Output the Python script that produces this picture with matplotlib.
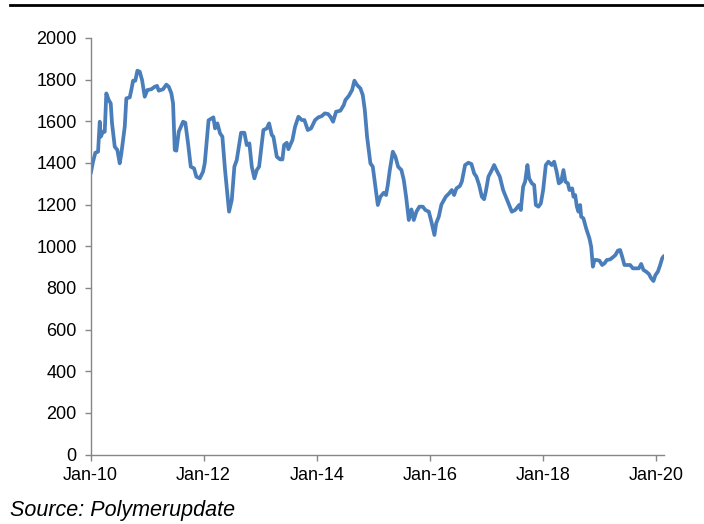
import matplotlib
matplotlib.use("Agg")
import matplotlib.pyplot as plt
from matplotlib.lines import Line2D
import pandas as pd
import numpy as np

plt.rcParams['font.family'] = ['Liberation Sans', 'DejaVu Sans']

# Time in years elapsed since Jan 2010, and price values
years_since_2010 = [
    0.004, 0.044, 0.085, 0.133, 0.163, 0.180, 0.221, 0.251, 0.279, 0.322,
    0.357, 0.380, 0.428, 0.474, 0.516, 0.545, 0.605, 0.633, 0.693, 0.721,
    0.752, 0.792, 0.828, 0.870, 0.911, 0.958, 1.004, 1.075, 1.135, 1.176,
    1.206, 1.282, 1.340, 1.383, 1.429, 1.459, 1.489, 1.517, 1.560, 1.636,
    1.676, 1.724, 1.772, 1.830, 1.871, 1.931, 1.989, 2.020, 2.087, 2.172,
    2.202, 2.243, 2.290, 2.331, 2.378, 2.449, 2.497, 2.543, 2.585, 2.661,
    2.720, 2.762, 2.808, 2.851, 2.897, 2.939, 2.980, 3.056, 3.116, 3.157,
    3.204, 3.233, 3.293, 3.351, 3.392, 3.422, 3.469, 3.498, 3.569, 3.616,
    3.675, 3.735, 3.781, 3.841, 3.899, 3.970, 4.028, 4.088, 4.141, 4.200,
    4.240, 4.288, 4.341, 4.417, 4.477, 4.506, 4.566, 4.624, 4.665, 4.713,
    4.771, 4.813, 4.849, 4.889, 4.948, 4.990, 5.036, 5.079, 5.125, 5.185,
    5.225, 5.255, 5.291, 5.344, 5.390, 5.438, 5.496, 5.538, 5.579, 5.627,
    5.673, 5.715, 5.761, 5.814, 5.874, 5.920, 5.981, 6.026, 6.080, 6.110,
    6.157, 6.203, 6.281, 6.340, 6.387, 6.428, 6.469, 6.529, 6.564, 6.622,
    6.681, 6.734, 6.782, 6.822, 6.870, 6.918, 6.958, 6.988, 7.034, 7.095,
    7.135, 7.176, 7.236, 7.294, 7.342, 7.401, 7.448, 7.507, 7.577, 7.607,
    7.648, 7.683, 7.724, 7.754, 7.802, 7.843, 7.873, 7.919, 7.961, 8.002,
    8.049, 8.095, 8.155, 8.196, 8.237, 8.279, 8.320, 8.361, 8.396, 8.439,
    8.467, 8.515, 8.538, 8.568, 8.598, 8.626, 8.656, 8.674, 8.714, 8.762,
    8.820, 8.851, 8.881, 8.909, 8.951, 8.997, 9.045, 9.086, 9.128, 9.187,
    9.234, 9.280, 9.323, 9.363, 9.399, 9.439, 9.499, 9.540, 9.588, 9.646,
    9.694, 9.735, 9.776, 9.823, 9.871, 9.912, 9.952, 9.988, 10.030, 10.071,
    10.106, 10.136,
]
prices = [
    1350, 1406, 1449, 1454, 1598, 1526, 1550, 1550, 1734, 1702,
    1686, 1590, 1478, 1462, 1398, 1446, 1574, 1710, 1715, 1750,
    1795, 1795, 1843, 1838, 1798, 1718, 1750, 1754, 1766, 1770,
    1747, 1754, 1776, 1766, 1734, 1686, 1462, 1459, 1550, 1598,
    1593, 1494, 1382, 1374, 1334, 1326, 1358, 1400, 1605, 1619,
    1566, 1590, 1542, 1526, 1366, 1166, 1222, 1382, 1414, 1545,
    1545, 1486, 1494, 1382, 1326, 1366, 1382, 1558, 1566, 1590,
    1534, 1526, 1430, 1417, 1417, 1486, 1497, 1466, 1510, 1574,
    1622, 1606, 1606, 1558, 1566, 1606, 1619, 1625, 1638, 1635,
    1622, 1598, 1646, 1651, 1678, 1702, 1722, 1750, 1795, 1774,
    1758, 1726, 1654, 1526, 1398, 1382, 1286, 1198, 1238, 1257,
    1246, 1294, 1366, 1454, 1430, 1382, 1366, 1318, 1238, 1126,
    1177, 1126, 1166, 1190, 1190, 1174, 1166, 1118, 1054, 1110,
    1142, 1200, 1238, 1254, 1270, 1246, 1278, 1289, 1310, 1390,
    1401, 1395, 1350, 1334, 1294, 1238, 1226, 1262, 1334, 1366,
    1390, 1366, 1334, 1270, 1238, 1198, 1166, 1174, 1198, 1174,
    1286, 1310, 1390, 1326, 1302, 1294, 1198, 1190, 1206, 1270,
    1390, 1406, 1390, 1406, 1362, 1302, 1310, 1366, 1310, 1302,
    1270, 1278, 1238, 1246, 1190, 1166, 1198, 1142, 1134, 1086,
    1038, 998, 902, 934, 934, 931, 910, 918, 934, 937,
    947, 958, 979, 982, 950, 910, 910, 910, 894, 894,
    894, 915, 886, 878, 867, 846, 833, 862, 878, 910,
    942, 953,
]
xtick_labels = ["Jan-10", "Jan-12", "Jan-14", "Jan-16", "Jan-18", "Jan-20"]
ytick_values = [0, 200, 400, 600, 800, 1000, 1200, 1400, 1600, 1800, 2000]
source_text = "Source: Polymerupdate"

start = pd.Timestamp("2010-01-01")
dates = start + pd.to_timedelta(np.array(years_since_2010) * 365.25, unit="D")
xtick_dates = [pd.Timestamp(f"20{lbl[-2:]}-01-01") for lbl in xtick_labels]

fig = plt.figure(figsize=(7.04, 5.24), dpi=100)
ax = fig.add_axes([0.1286, 0.1326, 0.8146, 0.7949])

ax.plot(dates, prices, color="#4A7EBB", lw=2.7, solid_joinstyle="round",
        solid_capstyle="round")

ax.set_ylim(0, 2000)
ax.set_yticks(ytick_values)
ax.set_xlim(start, dates[-1] + pd.Timedelta(days=1))
ax.set_xticks(xtick_dates)
ax.set_xticklabels(xtick_labels)

for s in ["top", "right"]:
    ax.spines[s].set_visible(False)
for s in ["left", "bottom"]:
    ax.spines[s].set_color("#868686")
    ax.spines[s].set_linewidth(1.0)

ax.tick_params(axis="both", direction="out", length=4, width=1.0,
               color="#868686", labelsize=13, labelcolor="black")
ax.tick_params(axis="y", pad=6)
ax.tick_params(axis="x", pad=5)

fig.add_artist(Line2D([0.0142, 1.0], [0.9914, 0.9914], color="black",
                      lw=2.0, transform=fig.transFigure))
fig.text(0.0142, 0.016, source_text, fontsize=15.5, style="italic",
         ha="left", va="baseline")

fig.savefig("out.png", dpi=100)
